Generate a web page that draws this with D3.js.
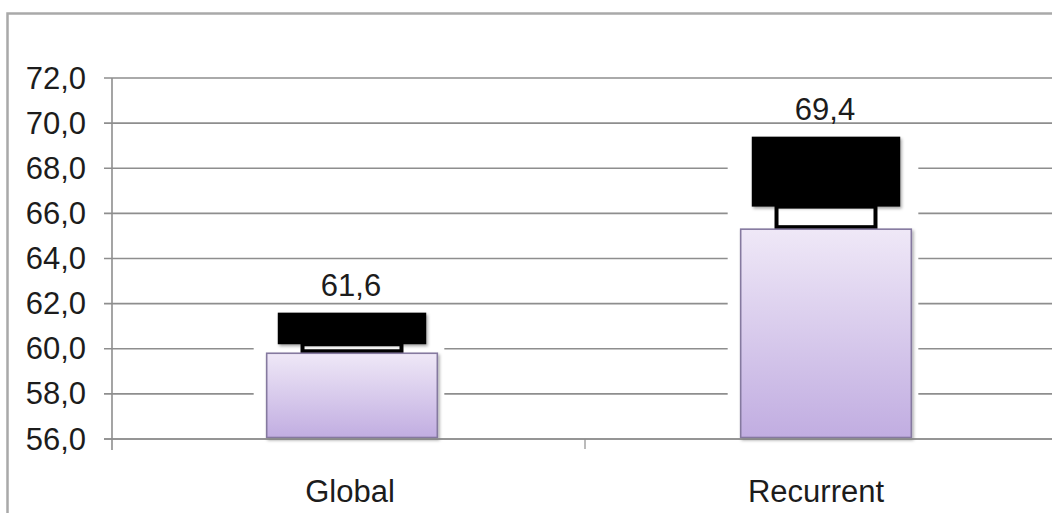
<!DOCTYPE html>
<html>
<head>
<meta charset="utf-8">
<script src="https://cdn.jsdelivr.net/npm/d3@7"></script>
<style>
  html, body { margin: 0; padding: 0; background: #fff; }
  svg { display: block; }
  text { font-family: "Liberation Sans", Arial, sans-serif; fill: #1c1c1c; }
</style>
</head>
<body>
<svg id="chart" width="1052" height="513"></svg>
<script>
// Categories and values
const categories = ["Global", "Recurrent"];
const values = [61.6, 69.4];          // labelled value (top of cap)
const barTops = [59.8, 65.3];         // top of the shaded bar
const capBottoms = [60.2, 66.3];      // lower edge of the black cap
const yTicks = [56, 58, 60, 62, 64, 66, 68, 70, 72];

const svg = d3.select("#chart");
const W = 1052, H = 513;

const y = d3.scaleLinear().domain([56, 72]).range([439, 78]);
const x = d3.scaleBand().domain(categories).range([113, 1061]).padding(0);

const fmt = v => d3.format(".1f")(v).replace(".", ",");

// gradient for bars
const defs = svg.append("defs");
const grad = defs.append("linearGradient").attr("id", "barGrad")
  .attr("x1", 0).attr("y1", 0).attr("x2", 0).attr("y2", 1);
grad.append("stop").attr("offset", "0%").attr("stop-color", "#efe8f7");
grad.append("stop").attr("offset", "100%").attr("stop-color", "#c1ade1");

const shadow = defs.append("filter").attr("id", "shadow")
  .attr("x", "-10%").attr("y", "-10%").attr("width", "130%").attr("height", "130%");
shadow.append("feDropShadow").attr("dx", 1.5).attr("dy", 2).attr("stdDeviation", 1.5)
  .attr("flood-color", "#000").attr("flood-opacity", 0.35);

// outer frame
svg.append("rect")
  .attr("x", 7.5).attr("y", 13.5).attr("width", W + 20).attr("height", H + 20)
  .attr("fill", "none").attr("stroke", "#a9a9a9").attr("stroke-width", 2.5);

// gridlines with tick marks
const grid = svg.append("g");
grid.selectAll("line").data(yTicks).enter().append("line")
  .attr("x1", 104).attr("x2", W)
  .attr("y1", d => y(d)).attr("y2", d => y(d))
  .attr("stroke", "#8e8e8e").attr("stroke-width", 1.6);

// tick labels
svg.append("g").selectAll("text").data(yTicks).enter().append("text")
  .attr("x", 86).attr("y", d => y(d))
  .attr("text-anchor", "end").attr("dominant-baseline", "central")
  .attr("font-size", 31).text(d => fmt(d));

// vertical axis
svg.append("line").attr("x1", 112).attr("x2", 112).attr("y1", y(72)).attr("y2", y(56) + 11)
  .attr("stroke", "#8e8e8e").attr("stroke-width", 1.6);

// category dividers below the baseline
const bounds = [x.range()[0] + x.bandwidth()];
svg.append("g").selectAll("line").data(bounds).enter().append("line")
  .attr("x1", d => d - 2).attr("x2", d => d - 2)
  .attr("y1", y(56)).attr("y2", y(56) + 10)
  .attr("stroke", "#8e8e8e").attr("stroke-width", 1.2);

const barW = x.bandwidth() * 0.36;
const capW = barW * 0.87;
const legW = barW * 0.58;
const cx = d => x(d) + x.bandwidth() / 2 + 2;

const groups = svg.append("g").selectAll("g").data(categories).enter().append("g");

// white clearing behind each bar
groups.append("rect")
  .attr("x", d => cx(d) - barW / 2 - 13)
  .attr("width", barW + 20)
  .attr("y", (d, i) => y(values[i]) - 4)
  .attr("height", (d, i) => y(56) - y(values[i]) + 3)
  .attr("fill", "#fff");

// bracket joining cap and bar
groups.append("rect")
  .attr("x", d => cx(d) - legW / 2)
  .attr("width", legW)
  .attr("y", (d, i) => y(capBottoms[i]))
  .attr("height", (d, i) => y(barTops[i]) - y(capBottoms[i]) - 2)
  .attr("fill", "#fff").attr("stroke", "#000").attr("stroke-width", 4);

// shaded bar
groups.append("rect")
  .attr("x", d => cx(d) - barW / 2)
  .attr("width", barW)
  .attr("y", (d, i) => y(barTops[i]))
  .attr("height", (d, i) => y(56) - y(barTops[i]) - 1.5)
  .attr("fill", "url(#barGrad)")
  .attr("stroke", "#85799f").attr("stroke-width", 1.6)
  .attr("filter", "url(#shadow)");

// black cap
groups.append("rect")
  .attr("x", d => cx(d) - capW / 2)
  .attr("width", capW)
  .attr("y", (d, i) => y(values[i]))
  .attr("height", (d, i) => y(capBottoms[i]) - y(values[i]))
  .attr("fill", "#000")
  .attr("filter", "url(#shadow)");

// value labels
groups.append("text")
  .attr("x", d => cx(d) - 1)
  .attr("y", (d, i) => y(values[i]) - 17)
  .attr("text-anchor", "middle").attr("font-size", 31)
  .text((d, i) => fmt(values[i]));

// baseline
svg.append("line").attr("x1", 104).attr("x2", W).attr("y1", y(56)).attr("y2", y(56))
  .attr("stroke", "#8e8e8e").attr("stroke-width", 1.6);

// category labels
svg.append("g").selectAll("text").data(categories).enter().append("text")
  .attr("x", (d, i) => x(d) + x.bandwidth() / 2 - i * 8)
  .attr("y", 502)
  .attr("text-anchor", "middle").attr("font-size", 31)
  .text(d => d);
</script>
</body>
</html>
